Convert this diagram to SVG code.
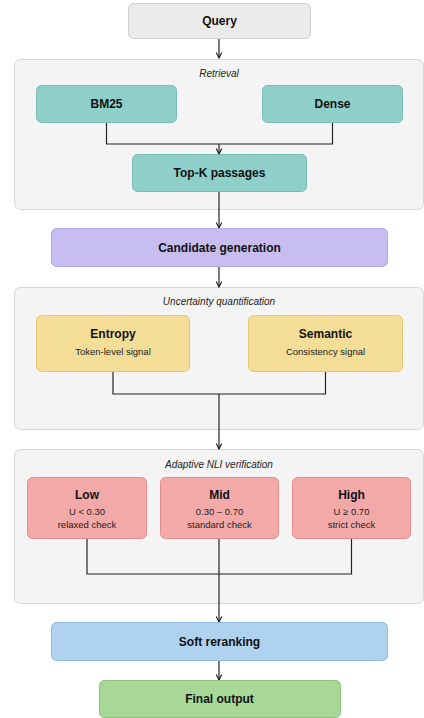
<svg xmlns="http://www.w3.org/2000/svg" width="424" height="718" viewBox="0 0 424 718">
<defs>
<marker id="arr" viewBox="0 0 10 10" refX="9" refY="5" markerWidth="7" markerHeight="7" orient="auto" markerUnits="userSpaceOnUse">
<path d="M1,1 L9,5 L1,9" fill="none" stroke="#1a1a1a" stroke-width="1.6"/>
</marker>
<style>
text{font-family:"Liberation Sans",Arial,sans-serif;text-anchor:middle;fill:#111}
.t{font-size:12px;font-weight:bold}
.s{font-size:9.5px;fill:#222}
.c{font-size:10px;font-style:italic;fill:#222}
.grp{fill:#f4f4f4;stroke:#d6d6d6;stroke-width:1}
.q{fill:#ebebeb;stroke:#cfcfcf}
.teal{fill:#8ecfc9;stroke:#76bdb6}
.pur{fill:#c8bdef;stroke:#b3a6e4}
.yel{fill:#f4dd97;stroke:#e6c872}
.red{fill:#f4a9a9;stroke:#e48d8d}
.blu{fill:#afd2ef;stroke:#8fbbe2}
.grn{fill:#a7d898;stroke:#8ac57a}
.e{fill:none;stroke:#222;stroke-width:1.2}
</style>
</defs>
<g id="clusters">
<g id="retrieval"><rect class="grp" x="14.5" y="59.5" width="409" height="150" rx="6"/><text class="c" x="219" y="77">Retrieval</text></g>
<g id="uncertainty"><rect class="grp" x="14.5" y="287.5" width="409" height="142" rx="6"/><text class="c" x="219" y="305">Uncertainty quantification</text></g>
<g id="nli"><rect class="grp" x="14.5" y="449.5" width="409" height="154" rx="6"/><text class="c" x="219" y="468">Adaptive NLI verification</text></g>
</g>
<g id="edges">
<path class="e" d="M219,38 V58" marker-end="url(#arr)"/>
<path class="e" d="M106.5,123 V144 H332.5 V123"/>
<path class="e" d="M219,144 V154" marker-end="url(#arr)"/>
<path class="e" d="M219,192 V228" marker-end="url(#arr)"/>
<path class="e" d="M219,267 V287" marker-end="url(#arr)"/>
<path class="e" d="M113,372 V394 H325.5 V372"/>
<path class="e" d="M219,394 V449" marker-end="url(#arr)"/>
<path class="e" d="M87,539 V574 H351.5 V539"/>
<path class="e" d="M219,539 V622" marker-end="url(#arr)"/>
<path class="e" d="M219,660 V680" marker-end="url(#arr)"/>
</g>
<g id="query"><rect class="q" x="128.5" y="3.5" width="182" height="35" rx="5"/><text class="t" x="219.5" y="25">Query</text></g>
<g id="bm25"><rect class="teal" x="36.5" y="85.5" width="140" height="37" rx="5"/><text class="t" x="106.5" y="108">BM25</text></g>
<g id="dense"><rect class="teal" x="262.5" y="85.5" width="140" height="37" rx="5"/><text class="t" x="332.5" y="108">Dense</text></g>
<g id="topk"><rect class="teal" x="132.5" y="154.5" width="174" height="37" rx="5"/><text class="t" x="219.5" y="177">Top-K passages</text></g>
<g id="candidate"><rect class="pur" x="51.5" y="228.5" width="336" height="38" rx="5"/><text class="t" x="219.5" y="252">Candidate generation</text></g>
<g id="entropy"><rect class="yel" x="36.5" y="315.5" width="153" height="56" rx="5"/><text class="t" x="113" y="338">Entropy</text><text class="s" x="113" y="355">Token-level signal</text></g>
<g id="semantic"><rect class="yel" x="248.5" y="315.5" width="154" height="56" rx="5"/><text class="t" x="325.5" y="338">Semantic</text><text class="s" x="325.5" y="355">Consistency signal</text></g>
<g id="low"><rect class="red" x="27.5" y="477.5" width="119" height="61" rx="5"/><text class="t" x="87" y="499">Low</text><text class="s" x="87" y="515">U &lt; 0.30</text><text class="s" x="87" y="528">relaxed check</text></g>
<g id="mid"><rect class="red" x="160.5" y="477.5" width="118" height="61" rx="5"/><text class="t" x="219.5" y="499">Mid</text><text class="s" x="219.5" y="515">0.30 – 0.70</text><text class="s" x="219.5" y="528">standard check</text></g>
<g id="high"><rect class="red" x="292.5" y="477.5" width="118" height="61" rx="5"/><text class="t" x="351.5" y="499">High</text><text class="s" x="351.5" y="515">U ≥ 0.70</text><text class="s" x="351.5" y="528">strict check</text></g>
<g id="rerank"><rect class="blu" x="51.5" y="622.5" width="336" height="38" rx="5"/><text class="t" x="219.5" y="646">Soft reranking</text></g>
<g id="final"><rect class="grn" x="99.5" y="680.5" width="241" height="37" rx="5"/><text class="t" x="219.5" y="703">Final output</text></g>
</svg>
